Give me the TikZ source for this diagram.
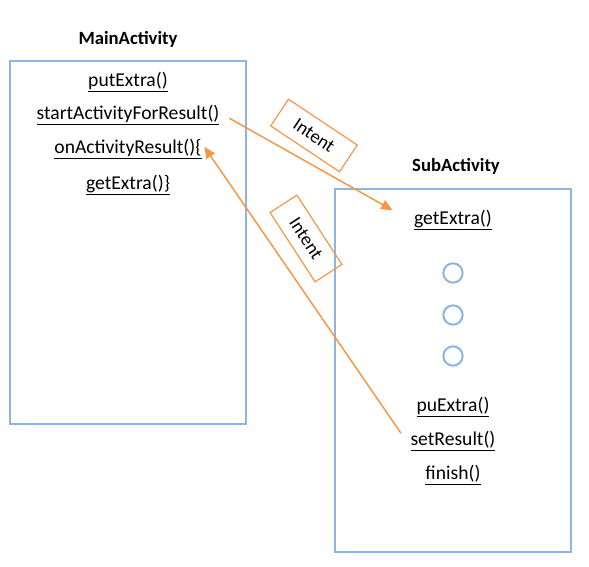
\documentclass[tikz,border=0pt]{standalone}
\usepackage{fontspec}
\setmainfont{Carlito}
\usetikzlibrary{arrows.meta}
\definecolor{boxblue}{RGB}{141,180,226}
\definecolor{intentorange}{RGB}{247,150,70}

\begin{document}
\begin{tikzpicture}[x=0.75pt,y=-0.75pt,
	actbox/.style={draw=boxblue, line width=1.5pt},
	method/.style={font=\fontsize{14.7}{17}\selectfont, inner sep=3pt},
	acttitle/.style={font=\fontsize{14}{17}\selectfont\bfseries},
	intentbox/.style={draw=intentorange, line width=0.9pt, minimum width=62pt, minimum height=24pt, inner sep=0pt, font=\fontsize{14}{17}\selectfont},
	waypoint/.style={circle, draw=boxblue, line width=1.5pt, minimum size=14.5pt, inner sep=0pt},
	msg/.style={intentorange, line width=1.1pt, -{Triangle[length=8.5pt,width=7.5pt]}}]
	\useasboundingbox (0,0) rectangle (589,567);
	
	% MainActivity
	\node[acttitle] (maintitle) at (128,39) {MainActivity};
	\draw[actbox] (10,61) rectangle (246,424);
	\node[method] (mainput) at (128,82) {\underline{putExtra()}};
	\node[method] (mainstart) at (128,115) {\underline{startActivityForResult()}};
	\node[method] (mainres) at (128,149) {\underline{onActivityResult()\{}};
	\node[method] (mainget) at (128,185) {\underline{getExtra()\}}};
	
	% SubActivity
	\node[acttitle] (subtitle) at (456,166) {SubActivity};
	\draw[actbox] (335,189) rectangle (571,552);
	\node[method] (subget) at (453,220) {\underline{getExtra()}};
	\node[waypoint] (dot1) at (453,273) {};
	\node[waypoint] (dot2) at (453,315) {};
	\node[waypoint] (dot3) at (453,356) {};
	\node[method] (subput) at (453,407) {\underline{puExtra()}};
	\node[method] (subset) at (453,441) {\underline{setResult()}};
	\node[method] (subfin) at (453,475) {\underline{finish()}};
	
	% Intents
	\draw[msg, shorten <=5pt, shorten >=15pt] (mainstart.east) -- (subget.west);
	\draw[msg, shorten <=7pt, shorten >=-2pt] (subset.west) -- (mainres.east);
	\node[intentbox, rotate=-33.7] (intentgo) at (314,135.5) {Intent};
	\node[intentbox, rotate=-57] (intentback) at (306,238.5) {Intent};
\end{tikzpicture}
\end{document}
